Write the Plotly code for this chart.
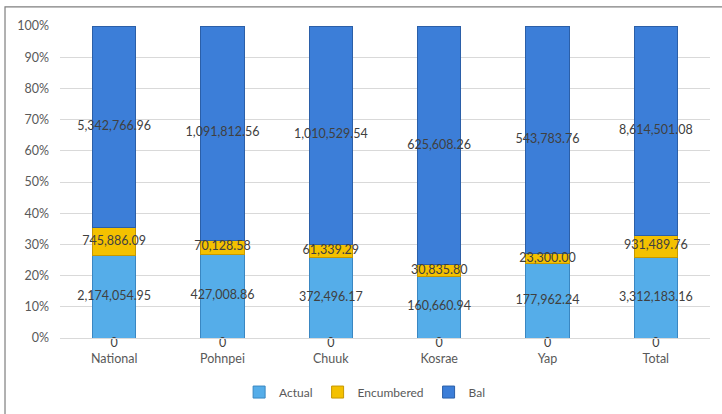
import plotly.graph_objects as go

categories = ["National", "Pohnpei", "Chuuk", "Kosrae", "Yap", "Total"]
actual = [2174054.95, 427008.86, 372496.17, 160660.94, 177962.24, 3312183.16]
encumbered = [745886.09, 70128.58, 61339.29, 30835.80, 23300.00, 931489.76]
bal = [5342766.96, 1091812.56, 1010529.54, 625608.26, 543783.76, 8614501.08]
base_labels = [0, 0, 0, 0, 0, 0]
y_ticks = [0, 10, 20, 30, 40, 50, 60, 70, 80, 90, 100]

FONT = "Lato"
TXT = "#404040"
AX = "#595959"

series = [
    ("Actual", actual, "#55ade9", "#3a87c2"),
    ("Encumbered", encumbered, "#f4c100", "#c69800"),
    ("Bal", bal, "#3c7ed8", "#2b5fa8"),
]

fig = go.Figure()
for name, vals, col, edge in series:
    fig.add_trace(go.Bar(
        x=categories, y=vals, name=name,
        marker=dict(color=col, line=dict(color=edge, width=1)),
        hoverinfo="skip",
    ))

# label positions (segment midpoints in percent)
totals = [a + e + b for a, e, b in zip(actual, encumbered, bal)]
lab_x, lab_y, lab_t = [], [], []
for i, c in enumerate(categories):
    cum = 0.0
    for vals in (actual, encumbered, bal):
        p = vals[i] / totals[i] * 100
        lab_x.append(c)
        lab_y.append(cum + p / 2)
        lab_t.append(f"{vals[i]:,.2f}")
        cum += p

fig.add_trace(go.Scatter(
    x=lab_x, y=lab_y, text=lab_t, mode="text",
    textfont=dict(family=FONT, size=12.5, color=TXT),
    showlegend=False, hoverinfo="skip", cliponaxis=False,
))
fig.add_trace(go.Scatter(
    x=categories, y=base_labels, text=[str(v) for v in base_labels], mode="text",
    textposition="bottom center",
    textfont=dict(family=FONT, size=12.5, color=TXT),
    showlegend=False, hoverinfo="skip", cliponaxis=False,
))

fig.update_layout(
    width=722, height=414,
    margin=dict(l=60, r=12, t=26, b=76, autoexpand=False),
    barmode="stack", barnorm="percent", bargap=0.6,
    paper_bgcolor="white", plot_bgcolor="white",
    font=dict(family=FONT, size=12, color=AX),
    legend=dict(orientation="h", xref="container", yref="container",
                x=0.505, xanchor="center", y=0.053, yanchor="middle",
                font=dict(family=FONT, size=12, color=AX), itemwidth=30,
                traceorder="normal", tracegroupgap=0),
    xaxis=dict(showgrid=False, showline=True, linecolor="#d9d9d9", linewidth=1,
               ticks="", tickfont=dict(family=FONT, size=12.5, color=AX),
               ticklabelstandoff=9, automargin=False),
    yaxis=dict(range=[0, 100], tickvals=y_ticks,
               ticktext=[f"{v}%" for v in y_ticks],
               showgrid=True, gridcolor="#d9d9d9", gridwidth=1,
               zeroline=False, showline=False, ticks="",
               tickfont=dict(family=FONT, size=12.5, color=AX),
               ticklabelstandoff=10, automargin=False),
    shapes=[dict(type="rect", xref="paper", yref="paper",
                 x0=-0.0846, x1=1.6, y0=-1.0, y1=1.061,
                 line=dict(color="#7f7f7f", width=1.2), layer="above")],
)

fig.write_html("out.html", config={"displayModeBar": False},
               post_script="document.body.style.margin='0';document.body.style.overflow='hidden';")
